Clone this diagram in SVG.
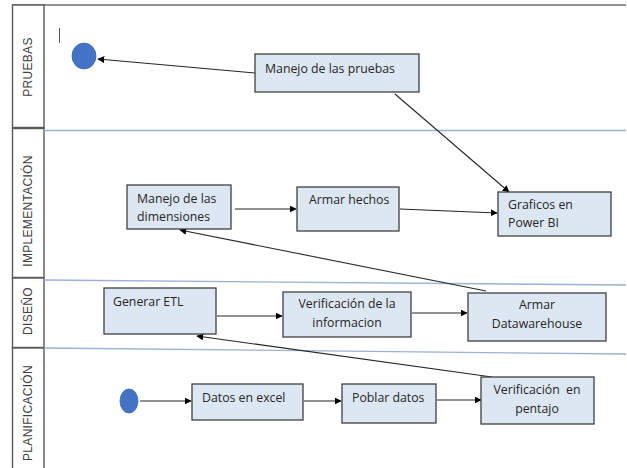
<svg xmlns="http://www.w3.org/2000/svg" width="627" height="468" viewBox="0 0 627 468">
<defs>
<style>
.lane{fill:#fff;stroke:#595959;stroke-width:1.4}
.lt{font-family:"Liberation Sans",Arial,sans-serif;font-size:12px;fill:#404040;letter-spacing:0.3px}
.sep{stroke:#9bb1d6;stroke-width:1.3;fill:none}
.box{fill:#dde7f3;stroke:#404040;stroke-width:1.3}
.t{font-family:"Open Sans","Liberation Sans",sans-serif;font-size:12.3px;fill:#262626}
.c{text-anchor:middle}
.e{stroke:#262626;stroke-width:1.1;fill:none;marker-end:url(#ah)}
.dot{fill:#4472c4;stroke:#3a64b0;stroke-width:0.8}
</style>
<marker id="ah" viewBox="0 0 10 10" refX="9" refY="5" markerWidth="7" markerHeight="7" orient="auto" markerUnits="userSpaceOnUse">
<path d="M0,0 L10,5 L0,10 z" fill="#000"/>
</marker>
</defs>
<rect width="627" height="468" fill="#fff"/>
<g id="lanes">
<line x1="12" y1="5" x2="626" y2="5" stroke="#6f6f6f" stroke-width="1.6"/>
<rect class="lane" x="12.5" y="5" width="31.5" height="122.5"/>
<rect class="lane" x="12.5" y="128.5" width="31.5" height="149"/>
<rect class="lane" x="12.5" y="278" width="31.5" height="69.5"/>
<rect class="lane" x="12.5" y="348" width="31.5" height="125"/>
<text class="lt" transform="translate(32,67) rotate(-90)" text-anchor="middle">PRUEBAS</text>
<text class="lt" transform="translate(32,211) rotate(-90)" text-anchor="middle">IMPLEMENTACIÓN</text>
<text class="lt" transform="translate(32,311) rotate(-90)" text-anchor="middle">DISEÑO</text>
<text class="lt" transform="translate(32,413) rotate(-90)" text-anchor="middle">PLANIFICACIÓN</text>
<line class="sep" x1="44" y1="130.5" x2="626" y2="130.5"/>
<line class="sep" x1="44" y1="280" x2="626" y2="285"/>
<line class="sep" x1="44" y1="348" x2="626" y2="354"/>
<line x1="59.5" y1="28" x2="59.5" y2="43" stroke="#595959" stroke-width="1"/>
</g>
<g id="connectors">
<line class="e" x1="255" y1="73" x2="98" y2="59"/>
<line class="e" x1="395" y1="94" x2="509" y2="192"/>
<line class="e" x1="235" y1="209" x2="296" y2="209"/>
<line class="e" x1="400" y1="209" x2="497" y2="213"/>
<line class="e" x1="486" y1="291" x2="180" y2="230"/>
<line class="e" x1="217" y1="316" x2="282" y2="316"/>
<line class="e" x1="412" y1="313" x2="467" y2="313"/>
<line class="e" x1="492" y1="377" x2="197" y2="336"/>
<line class="e" x1="140" y1="401" x2="191" y2="401"/>
<line class="e" x1="304" y1="401" x2="341" y2="401"/>
<line class="e" x1="437" y1="400" x2="481" y2="400"/>
</g>
<g id="fin"><ellipse class="dot" cx="84" cy="56" rx="12" ry="13"/></g>
<g id="manejo-pruebas">
<rect class="box" x="255" y="54" width="164" height="38"/>
<text class="t" x="265" y="73">Manejo de las pruebas</text>
</g>
<g id="manejo-dimensiones">
<rect class="box" x="127" y="185" width="104" height="44"/>
<text class="t" x="137" y="203">Manejo de las</text>
<text class="t" x="137" y="221">dimensiones</text>
</g>
<g id="armar-hechos">
<rect class="box" x="297" y="187" width="102" height="44"/>
<text class="t" x="309" y="204">Armar hechos</text>
</g>
<g id="graficos">
<rect class="box" x="498" y="192" width="113" height="44"/>
<text class="t" x="508" y="209">Graficos en</text>
<text class="t" x="508" y="227">Power BI</text>
</g>
<g id="generar-etl">
<rect class="box" x="104" y="288" width="112" height="46"/>
<text class="t" x="113" y="306">Generar ETL</text>
</g>
<g id="verificacion-informacion">
<rect class="box" x="283" y="292" width="128" height="45"/>
<text class="t c" x="347" y="308">Verificación de la</text>
<text class="t c" x="347" y="327">informacion</text>
</g>
<g id="armar-datawarehouse">
<rect class="box" x="468" y="293" width="138" height="48"/>
<text class="t c" x="537" y="309">Armar</text>
<text class="t c" x="537" y="328">Datawarehouse</text>
</g>
<g id="inicio"><ellipse class="dot" cx="129" cy="401" rx="9" ry="12"/></g>
<g id="datos-excel">
<rect class="box" x="192" y="384" width="111" height="36"/>
<text class="t" x="202" y="402">Datos en excel</text>
</g>
<g id="poblar-datos">
<rect class="box" x="342" y="384" width="94" height="39"/>
<text class="t" x="352" y="402">Poblar datos</text>
</g>
<g id="verificacion-pentajo">
<rect class="box" x="481" y="377" width="113" height="47"/>
<text class="t c" x="537" y="394" xml:space="preserve">Verificación  en</text>
<text class="t c" x="537" y="413">pentajo</text>
</g>
</svg>
